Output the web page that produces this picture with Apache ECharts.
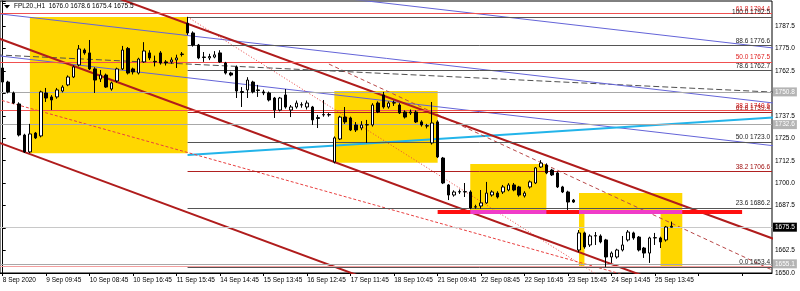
<!DOCTYPE html>
<html>
<head>
<meta charset="utf-8">
<script src="https://cdn.jsdelivr.net/npm/echarts@6/dist/echarts.min.js"></script>
<style>
html, body { margin: 0; padding: 0; background: #fff; }
#chart { width: 800px; height: 291px; }
</style>
</head>
<body>
<div id="chart"></div>
<script>
'use strict';
// trading days / session hours of the H1 bars
var days = ['8 Sep', '9 Sep', '10 Sep', '11 Sep', '14 Sep', '15 Sep', '16 Sep', '17 Sep', '18 Sep', '21 Sep', '22 Sep', '23 Sep', '24 Sep', '25 Sep'];
var hours = ['08:45', '09:45', '10:45', '11:45', '12:45', '13:45', '14:45', '15:45', '16:45'];

// OHLC
var open = [1764.1, 1756.3, 1750.2, 1744.1, 1726.8, 1717.4, 1727.9, 1726.3, 1750.2, 1748.0,
    1748.0, 1751.3, 1754.7, 1759.1, 1765.8, 1774.1, 1772.5, 1763.6, 1758.0, 1760.2,
    1752.4, 1756.9, 1763.6, 1775.0, 1763.6, 1761.3, 1767.5, 1772.5, 1767.8, 1772.5,
    1767.5, 1767.5, 1768.6, 1771.6, 1789.0, 1783.6, 1776.9, 1770.2, 1769.7, 1770.2,
    1772.5, 1766.9, 1761.3, 1764.7, 1751.0, 1751.9, 1756.3, 1751.9, 1750.8, 1750.2,
    1747.4, 1740.7, 1749.1, 1740.7, 1742.4, 1743.5, 1742.4, 1742.4, 1736.5, 1738.0,
    1738.0, 1711.8, 1724.6, 1736.8, 1736.3, 1732.4, 1730.7, 1732.4, 1732.4, 1744.6,
    1749.1, 1742.4, 1744.6, 1743.5, 1739.6, 1739.1, 1739.6, 1734.1, 1731.8, 1722.4,
    1734.1, 1714.0, 1699.0, 1693.4, 1695.1, 1695.1, 1695.1, 1686.7, 1687.3, 1689.0,
    1693.4, 1694.5, 1695.1, 1696.2, 1699.0, 1697.9, 1692.9, 1697.9, 1700.1, 1709.0,
    1710.1, 1707.3, 1705.7, 1697.9, 1695.1, 1690.6, 1662.8, 1672.3, 1665.6, 1670.6,
    1670.6, 1668.4, 1658.9, 1658.9, 1662.8, 1668.4, 1672.3, 1670.0, 1663.9, 1661.1,
    1669.5, 1669.5, 1668.4, 1676.0];
var high = [1765.5, 1757.0, 1751.0, 1745.0, 1727.5, 1733.0, 1728.5, 1751.5, 1753.0, 1749.0,
    1753.0, 1754.5, 1760.0, 1765.5, 1776.9, 1775.0, 1779.7, 1764.5, 1763.0, 1761.0,
    1756.5, 1764.3, 1776.4, 1775.8, 1764.3, 1769.8, 1778.5, 1774.0, 1771.0, 1773.5,
    1768.5, 1770.0, 1771.5, 1773.0, 1792.5, 1784.5, 1777.5, 1773.0, 1772.0, 1773.5,
    1774.0, 1767.5, 1762.0, 1765.5, 1753.5, 1759.0, 1757.0, 1754.7, 1752.0, 1751.0,
    1748.0, 1748.0, 1752.4, 1743.5, 1746.0, 1745.0, 1746.0, 1743.0, 1738.0, 1746.3,
    1739.0, 1726.0, 1737.5, 1742.4, 1737.0, 1734.0, 1734.5, 1735.2, 1744.5, 1745.5,
    1750.8, 1745.5, 1746.0, 1744.5, 1740.5, 1741.0, 1740.5, 1735.0, 1733.0, 1745.2,
    1735.0, 1714.6, 1699.5, 1696.0, 1696.5, 1700.1, 1696.0, 1688.0, 1696.2, 1700.7,
    1696.0, 1695.5, 1699.0, 1700.0, 1700.1, 1698.5, 1695.5, 1701.5, 1709.0, 1712.8,
    1711.0, 1708.0, 1706.5, 1698.5, 1695.8, 1691.2, 1673.9, 1673.0, 1671.5, 1672.8,
    1671.5, 1669.0, 1662.0, 1663.5, 1670.6, 1673.9, 1673.0, 1670.6, 1664.5, 1670.2,
    1672.3, 1670.2, 1676.2, 1678.6];
var low = [1755.5, 1750.0, 1744.0, 1726.0, 1716.8, 1716.8, 1724.6, 1725.5, 1745.2, 1740.7,
    1747.0, 1750.5, 1754.0, 1758.5, 1765.0, 1771.5, 1763.0, 1750.2, 1756.3, 1753.0,
    1751.5, 1756.0, 1763.0, 1760.5, 1760.5, 1760.5, 1767.0, 1768.5, 1765.0, 1766.0,
    1765.5, 1766.5, 1764.1, 1770.5, 1782.5, 1776.0, 1769.0, 1767.5, 1768.5, 1769.5,
    1767.0, 1760.5, 1759.5, 1747.4, 1742.4, 1747.4, 1750.0, 1748.0, 1749.0, 1745.5,
    1736.3, 1740.0, 1741.5, 1736.8, 1741.5, 1742.0, 1741.0, 1732.4, 1730.7, 1737.0,
    1737.0, 1711.0, 1724.0, 1733.0, 1729.0, 1728.5, 1729.5, 1722.4, 1731.5, 1739.0,
    1741.5, 1741.5, 1743.0, 1738.5, 1736.0, 1738.0, 1733.5, 1731.5, 1730.5, 1721.5,
    1714.0, 1699.5, 1690.6, 1692.5, 1694.0, 1692.3, 1685.5, 1685.8, 1685.8, 1688.5,
    1692.5, 1691.5, 1694.0, 1695.5, 1695.5, 1692.5, 1692.0, 1697.0, 1699.5, 1708.5,
    1705.0, 1704.0, 1697.3, 1694.5, 1685.1, 1689.0, 1661.5, 1663.5, 1664.5, 1665.6,
    1666.5, 1653.4, 1655.6, 1658.0, 1662.0, 1667.5, 1668.5, 1662.0, 1658.4, 1655.6,
    1665.6, 1663.9, 1667.5, 1675.4];
var close = [1756.3, 1750.8, 1744.6, 1726.8, 1717.4, 1727.4, 1725.2, 1750.8, 1747.4, 1746.3,
    1751.9, 1753.5, 1759.1, 1764.7, 1774.7, 1772.5, 1763.6, 1757.4, 1760.2, 1753.5,
    1755.8, 1763.6, 1774.1, 1761.3, 1761.9, 1769.1, 1773.6, 1769.7, 1767.5, 1766.9,
    1766.9, 1768.6, 1769.7, 1771.9, 1783.6, 1776.9, 1769.7, 1770.0, 1770.5, 1771.4,
    1767.5, 1761.3, 1760.2, 1751.3, 1750.5, 1757.4, 1750.8, 1751.6, 1750.2, 1746.3,
    1740.7, 1747.4, 1742.4, 1742.4, 1744.6, 1743.7, 1744.6, 1735.2, 1736.0, 1738.2,
    1738.2, 1725.2, 1736.8, 1734.1, 1729.6, 1729.6, 1732.4, 1732.6, 1743.5, 1739.6,
    1742.4, 1744.6, 1744.8, 1739.1, 1736.8, 1739.6, 1734.1, 1732.4, 1732.0, 1733.5,
    1714.6, 1700.1, 1693.4, 1695.1, 1695.3, 1695.3, 1686.2, 1686.9, 1689.0, 1694.5,
    1695.1, 1692.3, 1697.9, 1699.0, 1696.2, 1693.4, 1694.5, 1700.7, 1708.5, 1711.2,
    1705.7, 1704.6, 1697.9, 1695.1, 1689.5, 1689.5, 1672.3, 1664.5, 1670.6, 1670.8,
    1667.3, 1658.9, 1661.1, 1662.8, 1665.6, 1672.8, 1669.5, 1662.8, 1661.1, 1669.5,
    1669.7, 1667.3, 1675.6, 1675.5];

var emptyBars = 18;  // chart shift area on the right

// fibo levels: [price, text]
var fibRed = [[1794.4, '61.8 1794.4'], [1767.5, '50.0 1767.5'], [1740.6, '38.2 1740.6']];
var fibRedZero = 1653.5;
var fibGray = [[1792.5, '100.0 1792.5'], [1776.6, '88.6 1776.6'], [1762.7, '78.6 1762.7'],
    [1723.0, '50.0 1723.0'], [1686.2, '23.6 1686.2'], [1653.4, '0.0 1653.4']];
var fibDark = [[1739.4, '61.8 1739.4'], [1706.6, '38.2 1706.6']];
var fibStart = 34;

// price tags on the axis
var hLines = [1750.8, 1732.6, 1655.1];
var bidPrice = 1675.5;

// rectangles: [barFrom, priceFrom, barTo, priceTo]
var boxes = [[5, 1716.6, 34, 1792.5], [61, 1711.4, 80, 1751.3], [86, 1684.5, 100, 1710.7], [106, 1653.3, 125, 1694.5]];
var boxHole = [107, 1653.3, 121, 1683.5];
var support = 1684.0;

// trend lines: [bar1, price1, bar2, price2]
var channel = [[-1.05, 1780.9, 120.9, 1645.0], [17.9, 1806.6, 143, 1667.7], [-1.05, 1723.0, 69.4, 1644.1]];
var blueLines = [[60.2, 1803.8, 143, 1774.8], [-1.05, 1794.4, 143, 1744.2], [-1.05, 1771.0, 143, 1720.4]];
var cyanLine = [34, 1715.7, 143, 1736.8];
var redDash = [-1.05, 1746.8, 117.2, 1646.5];
var redDot = [34, 1792.5, 109.9, 1648.0];
var thinDash = [60, 1766.3, 141.5, 1651.7];
var grayDash = [-1.05, 1771.4, 143, 1750.5];

var times = [];
days.forEach(function (d, i) {
    hours.forEach(function (h, j) {
        if (i === 0 && j < 2) return;
        times.push(d + ' ' + h);
    });
});
times[0] = '8 Sep 2020';
var cats = times.slice();
for (var k = 0; k < emptyBars; k++) cats.push('');
var nCat = cats.length;

var ohlc = open.map(function (o, i) { return [o, close[i], low[i], high[i]]; });

var FONT = 'Liberation Sans';
var xMax = nCat - 0.5;

function seg(p, color, width, type) {
    return {
        type: 'line', xAxisIndex: 1, yAxisIndex: 0, silent: true, z: 3,
        symbol: 'none', clip: true, animation: false,
        data: [[p[0], p[1]], [p[2], p[3]]],
        lineStyle: { color: color, width: width, type: type || 'solid' }
    };
}

function levelLabel(text, color) {
    return { show: true, position: 'insideEndTop', formatter: text, color: color,
        fontFamily: FONT, fontSize: 6.5, distance: [2, 1] };
}

var marks = [];
fibRed.forEach(function (f) {
    marks.push({ yAxis: f[0], lineStyle: { color: '#f05050', width: 1, type: 'solid' }, label: levelLabel(f[1], '#e02020') });
});
marks.push({ yAxis: fibRedZero, lineStyle: { color: '#f4a0a0', width: 1, type: 'solid' }, label: { show: false } });
hLines.forEach(function (v) {
    marks.push({ yAxis: v, lineStyle: { color: '#a8a8a8', width: 1, type: 'solid' },
        label: { show: true, position: 'end', formatter: v.toFixed(1), color: '#fff', backgroundColor: '#b4b4b4',
            fontFamily: FONT, fontSize: 6.5, padding: [1, 2], distance: 1 } });
});
marks.push({ yAxis: bidPrice, lineStyle: { color: '#c8c8c8', width: 1, type: 'solid' },
    label: { show: true, position: 'end', formatter: bidPrice.toFixed(1), color: '#fff', backgroundColor: '#000',
        fontFamily: FONT, fontSize: 6.5, padding: [1, 2], distance: 1 } });
fibGray.forEach(function (f) {
    marks.push([{ coord: [fibStart, f[0]], lineStyle: { color: '#555', width: 1, type: 'solid' }, label: levelLabel(f[1], '#222') },
        { coord: [xMax, f[0]] }]);
});
fibDark.forEach(function (f) {
    marks.push([{ coord: [fibStart, f[0]], lineStyle: { color: '#b02020', width: 1, type: 'solid' }, label: levelLabel(f[1], '#a01010') },
        { coord: [xMax, f[0]] }]);
});

var areas = boxes.map(function (b) {
    return [{ coord: [b[0], b[1]], itemStyle: { color: '#ffd700', opacity: 1 } }, { coord: [b[2], b[3]] }];
});
areas.push([{ coord: [boxHole[0], boxHole[1]], itemStyle: { color: '#ffffff', opacity: 1 } }, { coord: [boxHole[2], boxHole[3]] }]);

var series = [{
    type: 'line', xAxisIndex: 1, yAxisIndex: 0, data: [], silent: true, z: 1, animation: false,
    markArea: { silent: true, data: areas },
    markLine: { silent: true, symbol: 'none', animation: false, data: marks }
}];
series.push(seg(grayDash, '#505050', 1, [6, 3]));
blueLines.forEach(function (l) { series.push(seg(l, '#6464d8', 1)); });
series.push(seg(cyanLine, '#22b4ea', 2));
series.push(seg(redDash, '#e84040', 1, [3, 2]));
series.push(seg(redDot, '#e84040', 1, [1, 2]));
series.push(seg(thinDash, '#b84848', 1, [4, 3]));
channel.forEach(function (l) { series.push(seg(l, '#b01c1c', 2)); });
series.push(seg([80, support, 136, support], '#ff1010', 4));
series.push(seg([86, support, 100, support], '#f03cc8', 4));
series.push(seg([106, support, 125, support], '#f03cc8', 4));
series.push({
    type: 'candlestick', xAxisIndex: 0, yAxisIndex: 0, z: 5, barWidth: 3, animation: false, silent: true,
    data: ohlc,
    itemStyle: { color: '#fff', color0: '#000', borderColor: '#000', borderColor0: '#000', borderWidth: 1 }
});

var chart = echarts.init(document.getElementById('chart'), null, { renderer: 'canvas' });
chart.setOption({
    animation: false,
    backgroundColor: '#fff',
    grid: { left: 0, right: 28, top: 1, bottom: 18, containLabel: false, outerBoundsMode: 'none',
        show: true, borderColor: '#000', borderWidth: 1 },
    xAxis: [{
        type: 'category', data: cats, boundaryGap: true,
        axisLine: { lineStyle: { color: '#000', width: 1 } },
        axisTick: { show: true, interval: 7, alignWithLabel: true, length: 3, lineStyle: { color: '#000' } },
        axisLabel: { interval: 7, align: 'left', margin: 4, color: '#000', fontFamily: FONT, fontSize: 6.5 },
        splitLine: { show: false }
    }, {
        type: 'value', min: -0.5, max: xMax, show: false
    }],
    yAxis: [{
        type: 'value', position: 'right', min: 1650, max: 1801.4, interval: 12.5, scale: true,
        axisLine: { show: true, lineStyle: { color: '#000' } },
        axisTick: { show: true, length: 3, lineStyle: { color: '#000' } },
        axisLabel: { margin: 3, color: '#000', fontFamily: FONT, fontSize: 6.5,
            formatter: function (v) { return (Math.abs(v % 12.5) < 1e-6 && v < 1795) ? v.toFixed(1) : ''; } },
        splitLine: { show: false }
    }],
    graphic: [
        { type: 'polygon', shape: { points: [[4, 5], [10, 5], [7, 8.5]] }, style: { fill: '#000' }, z: 10 },
        { type: 'text', left: 14, top: 3, z: 10,
            style: { text: 'FPL20.,H1  1676.0 1678.6 1675.4 1675.5', fill: '#000', font: '6.5px "Liberation Sans"' } }
    ],
    series: series
});
</script>
</body>
</html>
